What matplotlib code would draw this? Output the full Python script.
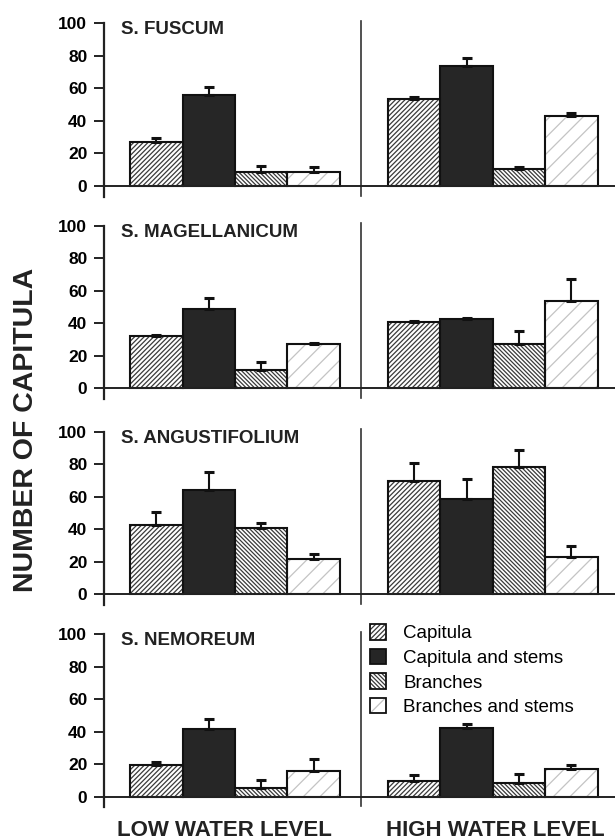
"""
Sphagnum capitula / branches regrowth - grouped bar chart with error bars
"""

import numpy as np
import matplotlib
matplotlib.use("Agg")
import matplotlib.pyplot as plt
from matplotlib.patches import Patch


# =========================
#  Data
# =========================

species = ["S. FUSCUM", "S. MAGELLANICUM", "S. ANGUSTIFOLIUM", "S. NEMOREUM"]
fragments = ["Capitula", "Capitula and stems", "Branches", "Branches and stems"]
water_levels = ["LOW WATER LEVEL", "HIGH WATER LEVEL"]

# mean number of capitula, order follows `fragments`
fuscum_low = [27, 56, 8.5, 8.5]
fuscum_high = [53.5, 74, 10.5, 43]
magellanicum_low = [32, 49, 11.5, 27]
magellanicum_high = [40.5, 42.5, 27, 53.5]
angustifolium_low = [42.5, 64, 40.5, 21.5]
angustifolium_high = [69.5, 58.5, 78.5, 23]
nemoreum_low = [19.5, 41.5, 5.2, 16]
nemoreum_high = [9.5, 42, 8.5, 17]

# upper error bars (SE)
fuscum_low_err = [2.5, 5, 4, 3]
fuscum_high_err = [1.5, 4.5, 1, 2]
magellanicum_low_err = [0.8, 6.5, 4.5, 0.8]
magellanicum_high_err = [1, 1, 8, 13.5]
angustifolium_low_err = [8, 11, 3.5, 3]
angustifolium_high_err = [11.5, 12.5, 10.5, 7]
nemoreum_low_err = [2, 6.3, 5, 7]
nemoreum_high_err = [4, 3, 5.5, 2.5]

y_ticks = [0, 20, 40, 60, 80, 100]


# =========================
#  Styling
# =========================

plt.rcParams["font.family"] = ["Liberation Sans", "DejaVu Sans"]
plt.rcParams["hatch.linewidth"] = 0.9

DARK = "#262626"
styles = [
    dict(facecolor="white", hatch="///////", hatch_color="#3a3a3a"),
    dict(facecolor=DARK, hatch=None, hatch_color=DARK),
    dict(facecolor="white", hatch="\\" * 8, hatch_color="#3a3a3a"),
    dict(facecolor="white", hatch="//", hatch_color="#c4c4c4"),
]

# layout in data units (one bar = 1 unit)
low_pos = np.arange(4) + 1.0
high_pos = np.arange(4) + 5.92
divider_x = 4.9
x_max = 9.75


def draw_bars(ax, pos, values, errs):
    for i, (x, v, e) in enumerate(zip(pos, values, errs)):
        st = styles[i]
        # hatch layer (hatch colour follows edge colour)
        ax.bar(x, v, width=1.0, color=st["facecolor"], edgecolor=st["hatch_color"],
               hatch=st["hatch"], linewidth=0, zorder=2)
        # outline
        ax.bar(x, v, width=1.0, color="none", edgecolor="#111111",
               linewidth=1.5, zorder=3)
        ax.errorbar(x, v, yerr=[[0], [e]], fmt="none", ecolor="#111111",
                    elinewidth=1.5, capsize=3.5, capthick=2.2, zorder=4)


def draw_panel(ax, name, low, high, low_err, high_err):
    ax.set_xlim(0, x_max)
    ax.set_ylim(-8, 103)
    for side in ["top", "right", "bottom"]:
        ax.spines[side].set_visible(False)
    ax.spines["left"].set_bounds(-6.5, 100)
    ax.spines["left"].set_linewidth(1.6)
    ax.spines["left"].set_color("#222222")
    ax.set_xticks([])
    ax.set_yticks(y_ticks)
    ax.tick_params(axis="y", length=7, width=1.4, pad=5, labelsize=12.5, color="#222222")
    for lab in ax.get_yticklabels():
        lab.set_fontweight("bold")

    # baseline and divider
    ax.plot([0, x_max], [0, 0], color="#222222", lw=1.4, zorder=5)
    ax.plot([divider_x, divider_x], [-6, 101.5], color="#333333", lw=1.2, zorder=1)

    draw_bars(ax, low_pos, low, low_err)
    draw_bars(ax, high_pos, high, high_err)

    ax.text(0.32, 96, name, fontsize=13.5, fontweight="bold", va="center", ha="left",
            color="#222222")


def legend_handles():
    handles = []
    for st in styles:
        fill = Patch(facecolor=st["facecolor"], edgecolor=st["hatch_color"],
                     hatch=st["hatch"], linewidth=0)
        edge = Patch(facecolor="none", edgecolor="#111111", linewidth=1.3)
        handles.append((fill, edge))
    return handles


# =========================
#  Main
# =========================

def main():
    fig = plt.figure(figsize=(6.15, 8.4), dpi=100)

    panels = [
        (fuscum_low, fuscum_high, fuscum_low_err, fuscum_high_err),
        (magellanicum_low, magellanicum_high, magellanicum_low_err, magellanicum_high_err),
        (angustifolium_low, angustifolium_high, angustifolium_low_err, angustifolium_high_err),
        (nemoreum_low, nemoreum_high, nemoreum_low_err, nemoreum_high_err),
    ]
    bottoms = [0.7631, 0.5223, 0.2770, 0.0361]

    axes = []
    for name, data, b in zip(species, panels, bottoms):
        ax = fig.add_axes([0.1691, b, 0.8309, 0.2148])
        draw_panel(ax, name, *data)
        axes.append(ax)

    # legend in the bottom panel
    fig.legend(legend_handles(), fragments, loc="upper left",
               bbox_to_anchor=(0.601, 1 - 624 / 840), frameon=False,
               fontsize=13.5, handlelength=0.9, handleheight=0.9,
               handletextpad=0.9, labelspacing=0.34, borderpad=0, borderaxespad=0)

    fig.text(26 / 615, 1 - 430 / 840, "NUMBER OF CAPITULA", rotation=90,
             fontsize=20.5, fontweight="bold", ha="center", va="center", color="#222222")
    fig.text(224 / 615, 1 - 831 / 840, water_levels[0], fontsize=16,
             fontweight="bold", ha="center", va="center", color="#222222")
    fig.text(495 / 615, 1 - 831 / 840, water_levels[1], fontsize=16,
             fontweight="bold", ha="center", va="center", color="#222222")

    fig.savefig("out.png", dpi=100)
    plt.close(fig)


if __name__ == "__main__":
    main()
